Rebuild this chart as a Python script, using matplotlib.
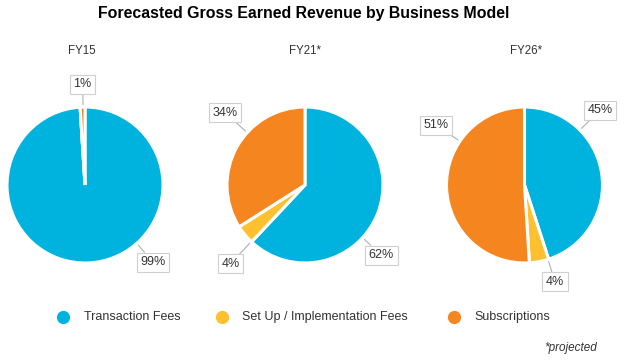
import matplotlib
matplotlib.use("Agg")
import matplotlib.pyplot as plt
import numpy as np
from matplotlib.lines import Line2D

plt.rcParams['font.family'] = ['Liberation Sans', 'DejaVu Sans']

# data
categories = ["Transaction Fees", "Set Up / Implementation Fees", "Subscriptions"]
years = ["FY15", "FY21*", "FY26*"]
fy15 = [99, 0, 1]
fy21 = [62, 4, 34]
fy26 = [45, 4, 51]
shares = [fy15, fy21, fy26]

colors = ["#00B3DF", "#FDC130", "#F5861F"]
txt = "#333333"

W, H = 624, 360
fig = plt.figure(figsize=(W / 100, H / 100), dpi=100)
fig.patch.set_facecolor("white")

# pie layout in pixels (center x, center y from top), radius
centers = [(85, 185), (305, 185), (524.5, 185)]
r = 78
title_x = [81.5, 305.5, 526]

# label placement (angle deg, distance in radii) for each wedge; None = no label
label_pos = [
    [(-48.5, 1.32), None, (91.4, 1.29)],
    [(-42.5, 1.33), (-133.5, 1.39), (137.8, 1.38)],
    [(44.8, 1.36), (-72.5, 1.30), (145.9, 1.37)],
]

fig.text(303.5 / W, 1 - 13.5 / H, "Forecasted Gross Earned Revenue by Business Model",
         ha="center", va="center", fontsize=11.4, fontweight="bold", color="black")

for i, vals in enumerate(shares):
    cx, cy = centers[i]
    ax = fig.add_axes([(cx - r) / W, (H - cy - r) / H, 2 * r / W, 2 * r / H])
    ax.pie(vals, colors=colors, startangle=90, counterclock=False, radius=1,
           wedgeprops=dict(edgecolor="white", linewidth=2.2))
    ax.set_xlim(-1, 1)
    ax.set_ylim(-1, 1)
    ax.set_aspect("equal")
    ax.axis("off")
    fig.text(title_x[i] / W, 1 - 51 / H, years[i], ha="center", va="center",
             fontsize=8.3, color=txt)
    for v, pos in zip(vals, label_pos[i]):
        if pos is None:
            continue
        a = np.radians(pos[0])
        ax.annotate("%d%%" % v,
                    xy=(1.03 * np.cos(a), 1.03 * np.sin(a)),
                    xytext=(pos[1] * np.cos(a), pos[1] * np.sin(a)),
                    ha="center", va="center", fontsize=9, color=txt,
                    bbox=dict(boxstyle="square,pad=0.28", fc="white", ec="#cfcfcf", lw=0.8),
                    arrowprops=dict(arrowstyle="-", color="#b0b0b0", lw=0.8,
                                    shrinkA=0, shrinkB=0),
                    annotation_clip=False)

# legend
leg_marker_x = [63, 222, 454]
leg_text_x = [84, 242, 474]
leg_y = 1 - 317 / H
for c, name, mx, tx in zip(colors, categories, leg_marker_x, leg_text_x):
    fig.add_artist(Line2D([mx / W], [leg_y], marker="o", markersize=8.5, color=c,
                          linestyle="none", transform=fig.transFigure))
    fig.text(tx / W, leg_y, name, ha="left", va="center", fontsize=9, color=txt)

fig.text(597 / W, 1 - 348 / H, "*projected", ha="right", va="center",
         fontsize=8.5, style="italic", color=txt)

fig.savefig("out.png", dpi=100)
